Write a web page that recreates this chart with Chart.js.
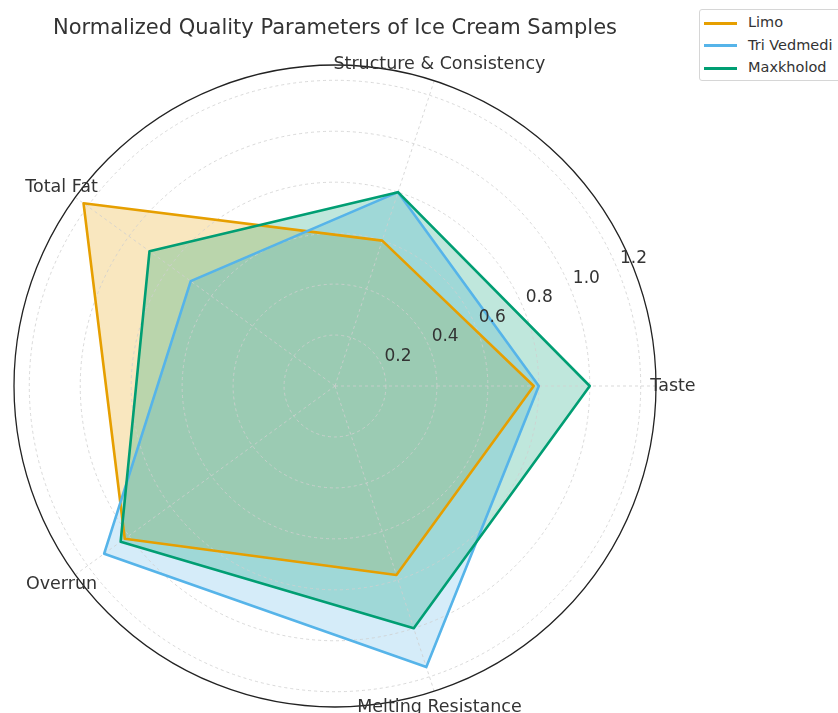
<!DOCTYPE html>
<html>
<head>
<meta charset="utf-8">
<script src="https://cdn.jsdelivr.net/npm/chart.js@4.4.1/dist/chart.umd.min.js"></script>
<style>
    body { margin: 0; background: #fff; font-family: "DejaVu Sans", sans-serif; }
    .wrap { position: relative; width: 838px; height: 713px; }
    .title {
        position: absolute; left: 0; width: 670px; top: 15px;
        text-align: center; font-size: 21px; color: #333;
    }
    .legend {
        position: absolute; left: 699px; top: 9px; width: 150px; height: 72px;
        border: 1px solid #d6d6d6; border-radius: 3px; background: #fff;
        font-size: 14.5px; color: #333; box-sizing: border-box;
    }
    .legend div { position: absolute; left: 4px; height: 18px; line-height: 18px; white-space: nowrap; }
    .legend span { display: inline-block; width: 33px; height: 3px; vertical-align: middle; margin-right: 11px; }
    canvas { position: absolute; left: 0; top: 0; }
</style>
</head>
<body>
<div class="wrap">
    <canvas id="radarChart" width="838" height="713"></canvas>
    <div class="title">Normalized Quality Parameters of Ice Cream Samples</div>
    <div class="legend" id="legend"></div>
</div>
<script>
// categories in clockwise order starting from the right-hand axis
const categories = ['Taste', 'Melting Resistance', 'Overrun', 'Total Fat', 'Structure & Consistency'];
const limo = [0.78, 0.78, 1.02, 1.22, 0.60];
const triVedmedi = [0.80, 1.16, 1.12, 0.70, 0.80];
const maxkholod = [1.00, 1.00, 1.04, 0.90, 0.80];
const gridTicks = [0, 0.2, 0.4, 0.6, 0.8, 1.0, 1.2];
const tickLabels = ['0.2', '0.4', '0.6', '0.8', '1.0', '1.2'];
const rMax = 1.26;

const series = [
    { label: 'Limo', data: limo, color: '#E69F00', fill: 'rgba(230, 159, 0, 0.25)' },
    { label: 'Tri Vedmedi', data: triVedmedi, color: '#56B4E9', fill: 'rgba(86, 180, 233, 0.25)' },
    { label: 'Maxkholod', data: maxkholod, color: '#009E73', fill: 'rgba(0, 158, 115, 0.25)' }
];

document.getElementById('legend').innerHTML = series.map((s, i) => `
    <div style="top:${3 + i * 22.5}px"><span style="background:${s.color}"></span>${s.label}</div>
`).join('');

// outer circle, radial tick labels and category labels, placed like matplotlib does
const polarDecor = {
    id: 'polarDecor',
    beforeDatasetsDraw(chart) {
        const r = chart.scales.r;
        const ctx = chart.ctx;
        ctx.save();
        ctx.strokeStyle = '#222';
        ctx.lineWidth = 1.3;
        ctx.beginPath();
        ctx.arc(r.xCenter, r.yCenter, r.drawingArea, 0, Math.PI * 2);
        ctx.stroke();
        ctx.restore();
    },
    afterDatasetsDraw(chart) {
        const r = chart.scales.r;
        const ctx = chart.ctx;
        const a = 22.5 * Math.PI / 180;
        ctx.save();
        ctx.fillStyle = '#333';
        ctx.textAlign = 'center';
        ctx.textBaseline = 'middle';
        ctx.font = '17px "DejaVu Sans"';
        tickLabels.forEach(t => {
            const d = r.getDistanceFromCenterForValue(parseFloat(t));
            ctx.fillText(t, r.xCenter + d * Math.cos(a) + 16, r.yCenter - d * Math.sin(a) - 10);
        });
        ctx.font = '17.5px "DejaVu Sans"';
        categories.forEach((c, i) => {
            const p = r.getPointPosition(i, r.drawingArea + 17);
            ctx.fillText(c, p.x, p.y);
        });
        ctx.restore();
    }
};

const ctx = document.getElementById('radarChart').getContext('2d');
new Chart(ctx, {
    type: 'radar',
    data: {
        labels: categories,
        datasets: series.map((s, i) => ({
            label: s.label,
            data: s.data,
            borderColor: s.color,
            backgroundColor: s.fill,
            borderWidth: 2.6,
            borderJoinStyle: 'round',
            fill: true,
            tension: 0,
            pointRadius: 0,
            order: series.length - i
        }))
    },
    options: {
        responsive: false,
        animation: false,
        layout: { padding: { left: 14, top: 65, right: 182, bottom: 6 } },
        plugins: {
            legend: { display: false },
            title: { display: false },
            tooltip: { enabled: false },
            // all fills go under the grid and the outlines, as in matplotlib
            filler: { drawTime: 'beforeDraw' }
        },
        scales: {
            r: {
                min: 0,
                max: rMax,
                startAngle: 90,
                afterBuildTicks: (scale) => { scale.ticks = gridTicks.map(v => ({ value: v })); },
                ticks: { display: false },
                pointLabels: { display: false },
                grid: { circular: true, color: '#cfcfcf', lineWidth: 0.8 },
                border: { dash: [3, 3] },
                angleLines: { color: '#cfcfcf', lineWidth: 0.8, borderDash: [3, 3] }
            }
        }
    },
    plugins: [polarDecor]
});
</script>
</body>
</html>
